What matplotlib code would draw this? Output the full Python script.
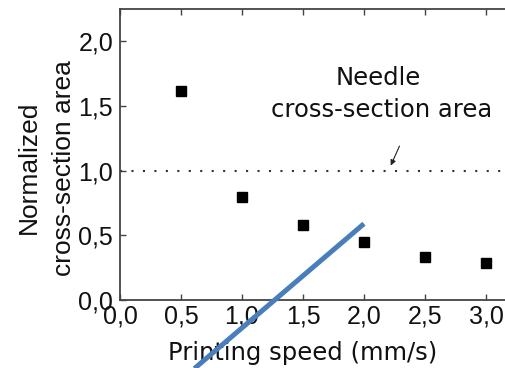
import matplotlib
matplotlib.use("Agg")
import matplotlib.pyplot as plt
from matplotlib.ticker import FixedLocator, FixedFormatter

speed = [0.5, 1.0, 1.5, 2.0, 2.5, 3.0]
norm_area = [1.62, 0.80, 0.58, 0.45, 0.33, 0.29]
needle_level = 1.0
xticks = [0.0, 0.5, 1.0, 1.5, 2.0, 2.5, 3.0]
xtick_labels = ["0,0", "0,5", "1,0", "1,5", "2,0", "2,5", "3,0"]
yticks = [0.0, 0.5, 1.0, 1.5, 2.0]
ytick_labels = ["0,0", "0,5", "1,0", "1,5", "2,0"]
blue_line_x = [2.0, 0.61]
blue_line_y = [0.59, -0.53]

fig = plt.figure(figsize=(5.06, 3.68), dpi=100)
ax = fig.add_axes([120/506, 68/368, 392/506, 291/368])
ax.set_xlim(0, 392/122)
ax.set_ylim(0, 291/129.3)

ax.plot(speed, norm_area, linestyle="none", marker="s", markersize=7.2,
        color="black")
ax.axhline(needle_level, color="#333333", linewidth=1.5,
           linestyle=(0, (1, 4.5)))

ax.annotate("", xy=(2.21, 1.02), xytext=(2.30, 1.21),
            arrowprops=dict(arrowstyle="-|>", color="#222222", lw=0.8,
                            mutation_scale=8))
ax.text(2.115, 1.663, "Needle", ha="center", va="baseline",
        fontsize=17.5, family="DejaVu Sans", color="#111111")
ax.text(2.148, 1.415, "cross-section area", ha="center", va="baseline",
        fontsize=17.5, family="DejaVu Sans", color="#111111")

for s in ["left", "top", "bottom"]:
    ax.spines[s].set_color("#444444")
    ax.spines[s].set_linewidth(1.3)
ax.spines["right"].set_visible(False)

ax.xaxis.set_major_locator(FixedLocator(xticks))
ax.xaxis.set_major_formatter(FixedFormatter(xtick_labels))
ax.yaxis.set_major_locator(FixedLocator(yticks))
ax.yaxis.set_major_formatter(FixedFormatter(ytick_labels))
ax.tick_params(axis="x", direction="in", top=True, length=4.5, width=1.0,
               color="#444444", labelsize=18, pad=3)
ax.tick_params(axis="y", direction="in", length=4.5, width=1.0,
               color="#444444", labelsize=18, pad=5)
for lab in ax.get_xticklabels() + ax.get_yticklabels():
    lab.set_family("Liberation Sans")
    lab.set_color("#111111")

ax.set_xlabel("Printing speed (mm/s)", fontsize=17.5, family="DejaVu Sans",
              color="#111111")
ax.xaxis.label.set_verticalalignment("baseline")
ax.xaxis.set_label_coords(0.467, -0.206)
ax.set_ylabel("Normalized\ncross-section area", fontsize=19,
              family="Liberation Sans", linespacing=1.6, color="#111111")
ax.yaxis.label.set_verticalalignment("bottom")
ax.yaxis.set_label_coords(-0.112, 0.455)

ax.plot(blue_line_x, blue_line_y, color="#4a7ebb", linewidth=3.6,
        solid_capstyle="butt", clip_on=False, zorder=5)

fig.savefig("out.png", dpi=100)
